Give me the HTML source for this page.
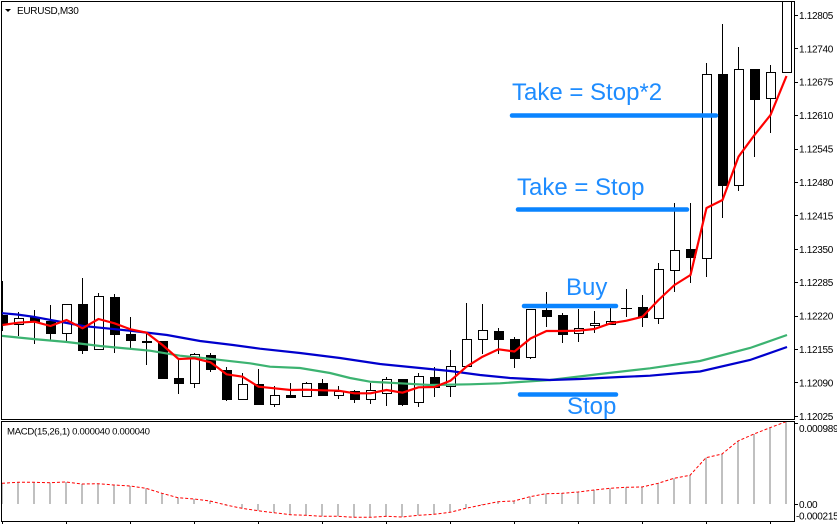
<!DOCTYPE html>
<html><head><meta charset="utf-8"><style>
html,body{margin:0;padding:0;background:#fff;}
svg{display:block;}
.ax{font-family:"Liberation Sans",sans-serif;font-size:10px;fill:#000;letter-spacing:-0.3px;}
.ann{font-family:"Liberation Sans","DejaVu Sans",sans-serif;font-size:24px;fill:#1e8cff;}
</style></head><body>
<svg width="837" height="524" viewBox="0 0 837 524" xmlns="http://www.w3.org/2000/svg">
<rect width="837" height="524" fill="#fff"/>
<defs>
<clipPath id="mp"><rect x="2" y="2" width="792" height="417"/></clipPath>
<clipPath id="mc"><rect x="2" y="422" width="792" height="99"/></clipPath>
</defs>
<g clip-path="url(#mp)">
<g stroke="#000" stroke-width="1">
<line x1="2.5" y1="281" x2="2.5" y2="331"/>
<line x1="18.5" y1="312" x2="18.5" y2="336"/>
<line x1="34.5" y1="310" x2="34.5" y2="344"/>
<line x1="50.5" y1="305" x2="50.5" y2="340"/>
<line x1="66.5" y1="304" x2="66.5" y2="341"/>
<line x1="82.5" y1="278" x2="82.5" y2="354"/>
<line x1="98.5" y1="293" x2="98.5" y2="349"/>
<line x1="114.5" y1="294" x2="114.5" y2="353"/>
<line x1="130.5" y1="317" x2="130.5" y2="348"/>
<line x1="146.5" y1="333" x2="146.5" y2="365"/>
<line x1="162.5" y1="341" x2="162.5" y2="379"/>
<line x1="178.5" y1="360" x2="178.5" y2="394"/>
<line x1="194.5" y1="353" x2="194.5" y2="388"/>
<line x1="210.5" y1="353" x2="210.5" y2="372"/>
<line x1="226.5" y1="367" x2="226.5" y2="401"/>
<line x1="242.5" y1="373" x2="242.5" y2="399"/>
<line x1="258.5" y1="369" x2="258.5" y2="404"/>
<line x1="274.5" y1="386" x2="274.5" y2="407"/>
<line x1="290.5" y1="383" x2="290.5" y2="397"/>
<line x1="306.5" y1="382" x2="306.5" y2="397"/>
<line x1="322.5" y1="379" x2="322.5" y2="395"/>
<line x1="338.5" y1="386" x2="338.5" y2="399"/>
<line x1="354.5" y1="390" x2="354.5" y2="403"/>
<line x1="370.5" y1="383" x2="370.5" y2="404"/>
<line x1="386.5" y1="377" x2="386.5" y2="406"/>
<line x1="402.5" y1="379" x2="402.5" y2="406"/>
<line x1="418.5" y1="373" x2="418.5" y2="407"/>
<line x1="434.5" y1="367" x2="434.5" y2="397"/>
<line x1="450.5" y1="350" x2="450.5" y2="397"/>
<line x1="466.5" y1="303" x2="466.5" y2="366"/>
<line x1="482.5" y1="304" x2="482.5" y2="354"/>
<line x1="498.5" y1="328" x2="498.5" y2="354"/>
<line x1="514.5" y1="337" x2="514.5" y2="368"/>
<line x1="530.5" y1="309" x2="530.5" y2="359"/>
<line x1="546.5" y1="292" x2="546.5" y2="327"/>
<line x1="562.5" y1="313" x2="562.5" y2="343"/>
<line x1="578.5" y1="309" x2="578.5" y2="342"/>
<line x1="594.5" y1="311" x2="594.5" y2="333"/>
<line x1="610.5" y1="308" x2="610.5" y2="324"/>
<line x1="626.5" y1="289" x2="626.5" y2="317"/>
<line x1="642.5" y1="295" x2="642.5" y2="327"/>
<line x1="658.5" y1="263" x2="658.5" y2="324"/>
<line x1="674.5" y1="203" x2="674.5" y2="292"/>
<line x1="690.5" y1="203" x2="690.5" y2="283"/>
<line x1="706.5" y1="63" x2="706.5" y2="277"/>
<line x1="722.5" y1="24" x2="722.5" y2="218"/>
<line x1="738.5" y1="47" x2="738.5" y2="191"/>
<line x1="754.5" y1="69" x2="754.5" y2="157"/>
<line x1="770.5" y1="65" x2="770.5" y2="133"/>
<line x1="786.5" y1="0" x2="786.5" y2="73"/>
</g>
<g stroke="#000" stroke-width="1">
<rect x="-1.5" y="315.5" width="9" height="9" fill="#000"/>
<rect x="14.5" y="318.5" width="9" height="6" fill="#fff"/>
<rect x="30.5" y="317.5" width="9" height="4" fill="#000"/>
<rect x="46.5" y="321.5" width="9" height="12" fill="#000"/>
<rect x="62.5" y="304.5" width="9" height="29" fill="#fff"/>
<rect x="78.5" y="304.5" width="9" height="46" fill="#000"/>
<rect x="94.5" y="296.5" width="9" height="53" fill="#fff"/>
<rect x="110.5" y="297.5" width="9" height="37" fill="#000"/>
<rect x="126.5" y="334.5" width="9" height="6" fill="#000"/>
<rect x="142.5" y="341.5" width="9" height="1" fill="#000"/>
<rect x="158.5" y="341.5" width="9" height="37" fill="#000"/>
<rect x="174.5" y="378.5" width="9" height="5" fill="#000"/>
<rect x="190.5" y="354.5" width="9" height="29" fill="#fff"/>
<rect x="206.5" y="355.5" width="9" height="14" fill="#000"/>
<rect x="222.5" y="370.5" width="9" height="29" fill="#000"/>
<rect x="238.5" y="384.5" width="9" height="15" fill="#fff"/>
<rect x="254.5" y="384.5" width="9" height="20" fill="#000"/>
<rect x="270.5" y="395.5" width="9" height="9" fill="#fff"/>
<rect x="286.5" y="395.5" width="9" height="2" fill="#000"/>
<rect x="302.5" y="383.5" width="9" height="13" fill="#fff"/>
<rect x="318.5" y="383.5" width="9" height="12" fill="#000"/>
<rect x="334.5" y="391.5" width="9" height="4" fill="#fff"/>
<rect x="350.5" y="391.5" width="9" height="8" fill="#000"/>
<rect x="366.5" y="390.5" width="9" height="9" fill="#fff"/>
<rect x="382.5" y="379.5" width="9" height="14" fill="#fff"/>
<rect x="398.5" y="379.5" width="9" height="25" fill="#000"/>
<rect x="414.5" y="376.5" width="9" height="26" fill="#fff"/>
<rect x="430.5" y="377.5" width="9" height="10" fill="#000"/>
<rect x="446.5" y="366.5" width="9" height="20" fill="#fff"/>
<rect x="462.5" y="339.5" width="9" height="27" fill="#fff"/>
<rect x="478.5" y="330.5" width="9" height="9" fill="#fff"/>
<rect x="494.5" y="331.5" width="9" height="8" fill="#000"/>
<rect x="510.5" y="339.5" width="9" height="19" fill="#000"/>
<rect x="526.5" y="309.5" width="9" height="48" fill="#fff"/>
<rect x="542.5" y="310.5" width="9" height="6" fill="#000"/>
<rect x="558.5" y="315.5" width="9" height="19" fill="#000"/>
<rect x="574.5" y="328.5" width="9" height="5" fill="#fff"/>
<rect x="590.5" y="323.5" width="9" height="2" fill="#fff"/>
<rect x="606.5" y="321.5" width="9" height="3" fill="#fff"/>
<line x1="621" y1="308.5" x2="632" y2="308.5"/>
<rect x="638.5" y="307.5" width="9" height="10" fill="#000"/>
<rect x="654.5" y="269.5" width="9" height="49" fill="#fff"/>
<rect x="670.5" y="250.5" width="9" height="20" fill="#fff"/>
<rect x="686.5" y="249.5" width="9" height="8" fill="#000"/>
<rect x="702.5" y="74.5" width="9" height="184" fill="#fff"/>
<rect x="718.5" y="74.5" width="9" height="111" fill="#000"/>
<rect x="734.5" y="69.5" width="9" height="116" fill="#fff"/>
<rect x="750.5" y="69.5" width="9" height="30" fill="#000"/>
<rect x="766.5" y="72.5" width="9" height="26" fill="#fff"/>
<rect x="782.5" y="-5.5" width="9" height="78" fill="#fff"/>
</g>
<polyline fill="none" stroke="#3cb371" stroke-width="2.2" points="0,335.7 33,339 67,342 100,346 150,350.7 180,355.7 200,357.7 250,363.3 270,366.7 300,368 330,373 350,378 370,381.7 400,383.3 430,385 470,384.3 500,383.3 550,380 600,374 650,368.3 700,361 750,348 787,335"/>
<polyline fill="none" stroke="#0000cd" stroke-width="2.2" points="0,313 17,314.5 33,316.7 67,323 83,326 100,327.7 133,331 167,335 200,341 233,345 260,348.7 300,353 340,358 380,364 420,368 450,371 480,375 510,378 550,380 580,379 620,377 650,375.7 680,373 700,371.5 750,360 787,347"/>
<polyline fill="none" stroke="#ff0000" stroke-width="2.2" stroke-linejoin="round" points="2.5,325 18.5,322.7 34.5,321.7 50.5,326 66.5,320 82.5,328.3 98.5,319 114.5,323.3 130.5,329.3 146.5,332.7 162.5,345 178.5,359 194.5,358.3 210.5,362.3 226.5,374.3 242.5,376.7 258.5,386.7 274.5,388.3 290.5,390 306.5,389.7 322.5,390.3 338.5,390.7 354.5,393.3 370.5,393.3 386.5,390 402.5,392.7 418.5,387.3 434.5,387 450.5,380.7 466.5,366.7 482.5,356.7 498.5,349.3 514.5,351.5 530.5,338.5 546.5,331 562.5,331 578.5,330.7 594.5,329 610.5,323.3 626.5,320.7 642.5,316.7 658.5,300 674.5,285 690.5,275 706.5,208 722.5,200 738.5,156.7 754.5,135 770.5,115 786.5,76"/>
<g stroke="#0a84ff" stroke-width="4.5" stroke-linecap="round">
<line x1="512" y1="115.5" x2="716" y2="115.5"/>
<line x1="518" y1="209.5" x2="687" y2="209.5"/>
<line x1="524" y1="306" x2="616" y2="306"/>
<line x1="520" y1="394.5" x2="616" y2="394.5"/>
</g>
<text class="ann" x="512" y="100">Take = Stop*2</text>
<text class="ann" x="517" y="195">Take = Stop</text>
<text class="ann" x="566" y="295">Buy</text>
<text class="ann" x="567" y="414">Stop</text>
</g>
<g clip-path="url(#mc)">
<g fill="#c0c0c0">
<rect x="1" y="483.3" width="2" height="20.7"/>
<rect x="17" y="482.3" width="2" height="21.7"/>
<rect x="33" y="482.3" width="2" height="21.7"/>
<rect x="49" y="482.7" width="2" height="21.3"/>
<rect x="65" y="482" width="2" height="22"/>
<rect x="81" y="484" width="2" height="20"/>
<rect x="97" y="483.7" width="2" height="20.3"/>
<rect x="113" y="485" width="2" height="19"/>
<rect x="129" y="486" width="2" height="18"/>
<rect x="145" y="488.3" width="2" height="15.7"/>
<rect x="161" y="493.3" width="2" height="10.7"/>
<rect x="177" y="497.7" width="2" height="6.3"/>
<rect x="193" y="499" width="2" height="5"/>
<rect x="209" y="501" width="2" height="3"/>
<rect x="225" y="504" width="2" height="1"/>
<rect x="241" y="504" width="2" height="4.3"/>
<rect x="257" y="504" width="2" height="6.7"/>
<rect x="273" y="504" width="2" height="8.7"/>
<rect x="289" y="504" width="2" height="10.7"/>
<rect x="305" y="504" width="2" height="11.3"/>
<rect x="321" y="504" width="2" height="12.3"/>
<rect x="337" y="504" width="2" height="12.3"/>
<rect x="353" y="504" width="2" height="13.3"/>
<rect x="369" y="504" width="2" height="13.3"/>
<rect x="385" y="504" width="2" height="12.3"/>
<rect x="401" y="504" width="2" height="13"/>
<rect x="417" y="504" width="2" height="11.3"/>
<rect x="433" y="504" width="2" height="10.3"/>
<rect x="449" y="504" width="2" height="8.3"/>
<rect x="465" y="504" width="2" height="4.3"/>
<rect x="481" y="504" width="2" height="1"/>
<rect x="497" y="501.7" width="2" height="2.3"/>
<rect x="513" y="501" width="2" height="3"/>
<rect x="529" y="496.7" width="2" height="7.3"/>
<rect x="545" y="493.7" width="2" height="10.3"/>
<rect x="561" y="493.3" width="2" height="10.7"/>
<rect x="577" y="492" width="2" height="12"/>
<rect x="593" y="490" width="2" height="14"/>
<rect x="609" y="488.3" width="2" height="15.7"/>
<rect x="625" y="487.3" width="2" height="16.7"/>
<rect x="641" y="487" width="2" height="17"/>
<rect x="657" y="483.3" width="2" height="20.7"/>
<rect x="673" y="478.3" width="2" height="25.7"/>
<rect x="689" y="475.3" width="2" height="28.7"/>
<rect x="705" y="457.7" width="2" height="46.3"/>
<rect x="721" y="454" width="2" height="50"/>
<rect x="737" y="441" width="2" height="63"/>
<rect x="753" y="434" width="2" height="70"/>
<rect x="769" y="427.7" width="2" height="76.3"/>
<rect x="785" y="421.7" width="2" height="82.3"/>
</g>
<polyline fill="none" stroke="#ff0000" stroke-width="1" stroke-dasharray="3,2" points="2,483.3 18,482.3 34,482.3 50,482.7 66,482 82,484 98,483.7 114,485 130,486 146,488.3 162,493.3 178,497.7 194,499 210,501 226,505 242,508.3 258,510.7 274,512.7 290,514.7 306,515.3 322,516.3 338,516.3 354,517.3 370,517.3 386,516.3 402,517 418,515.3 434,514.3 450,512.3 466,508.3 482,505 498,501.7 514,501 530,496.7 546,493.7 562,493.3 578,492 594,490 610,488.3 626,487.3 642,487 658,483.3 674,478.3 690,475.3 706,457.7 722,454 738,441 754,434 770,427.7 786,421.7"/>
</g>
<g fill="none" stroke="#000" stroke-width="1">
<rect x="1.5" y="1.5" width="793" height="418"/>
<rect x="1.5" y="421.5" width="793" height="100"/>
</g>
<g stroke="#000" stroke-width="1">
<line x1="795" y1="15.5" x2="798" y2="15.5"/>
<line x1="795" y1="48.5" x2="798" y2="48.5"/>
<line x1="795" y1="82.5" x2="798" y2="82.5"/>
<line x1="795" y1="115.5" x2="798" y2="115.5"/>
<line x1="795" y1="149.5" x2="798" y2="149.5"/>
<line x1="795" y1="182.5" x2="798" y2="182.5"/>
<line x1="795" y1="215.5" x2="798" y2="215.5"/>
<line x1="795" y1="249.5" x2="798" y2="249.5"/>
<line x1="795" y1="282.5" x2="798" y2="282.5"/>
<line x1="795" y1="316.5" x2="798" y2="316.5"/>
<line x1="795" y1="349.5" x2="798" y2="349.5"/>
<line x1="795" y1="382.5" x2="798" y2="382.5"/>
<line x1="795" y1="416.5" x2="798" y2="416.5"/>
<line x1="795" y1="423.5" x2="798" y2="423.5"/>
<line x1="795" y1="504.5" x2="798" y2="504.5"/>
<line x1="2.5" y1="522" x2="2.5" y2="524"/>
<line x1="66.5" y1="522" x2="66.5" y2="524"/>
<line x1="130.5" y1="522" x2="130.5" y2="524"/>
<line x1="194.5" y1="522" x2="194.5" y2="524"/>
<line x1="258.5" y1="522" x2="258.5" y2="524"/>
<line x1="322.5" y1="522" x2="322.5" y2="524"/>
<line x1="386.5" y1="522" x2="386.5" y2="524"/>
<line x1="450.5" y1="522" x2="450.5" y2="524"/>
<line x1="514.5" y1="522" x2="514.5" y2="524"/>
<line x1="578.5" y1="522" x2="578.5" y2="524"/>
<line x1="642.5" y1="522" x2="642.5" y2="524"/>
<line x1="706.5" y1="522" x2="706.5" y2="524"/>
<line x1="770.5" y1="522" x2="770.5" y2="524"/>
</g>
<g class="ax">
<text x="799" y="19">1.12805</text>
<text x="799" y="52.3">1.12740</text>
<text x="799" y="85.7">1.12675</text>
<text x="799" y="119">1.12610</text>
<text x="799" y="152.5">1.12545</text>
<text x="799" y="186">1.12480</text>
<text x="799" y="219.4">1.12415</text>
<text x="799" y="252.8">1.12350</text>
<text x="799" y="286.2">1.12285</text>
<text x="799" y="319.6">1.12220</text>
<text x="799" y="353">1.12155</text>
<text x="799" y="386.4">1.12090</text>
<text x="799" y="419.8">1.12025</text>
<text x="799" y="432">0.000989</text>
<text x="799" y="508">0.00</text>
<text x="796" y="519.5">-0.000215</text>
</g>
<polygon points="5,9 11,9 8,12" fill="#000"/>
<text class="ax" x="17" y="14">EURUSD,M30</text>
<text class="ax" x="7" y="434.5" style="font-size:9.6px">MACD(15,26,1) 0.000040 0.000040</text>
</svg>
</body></html>
